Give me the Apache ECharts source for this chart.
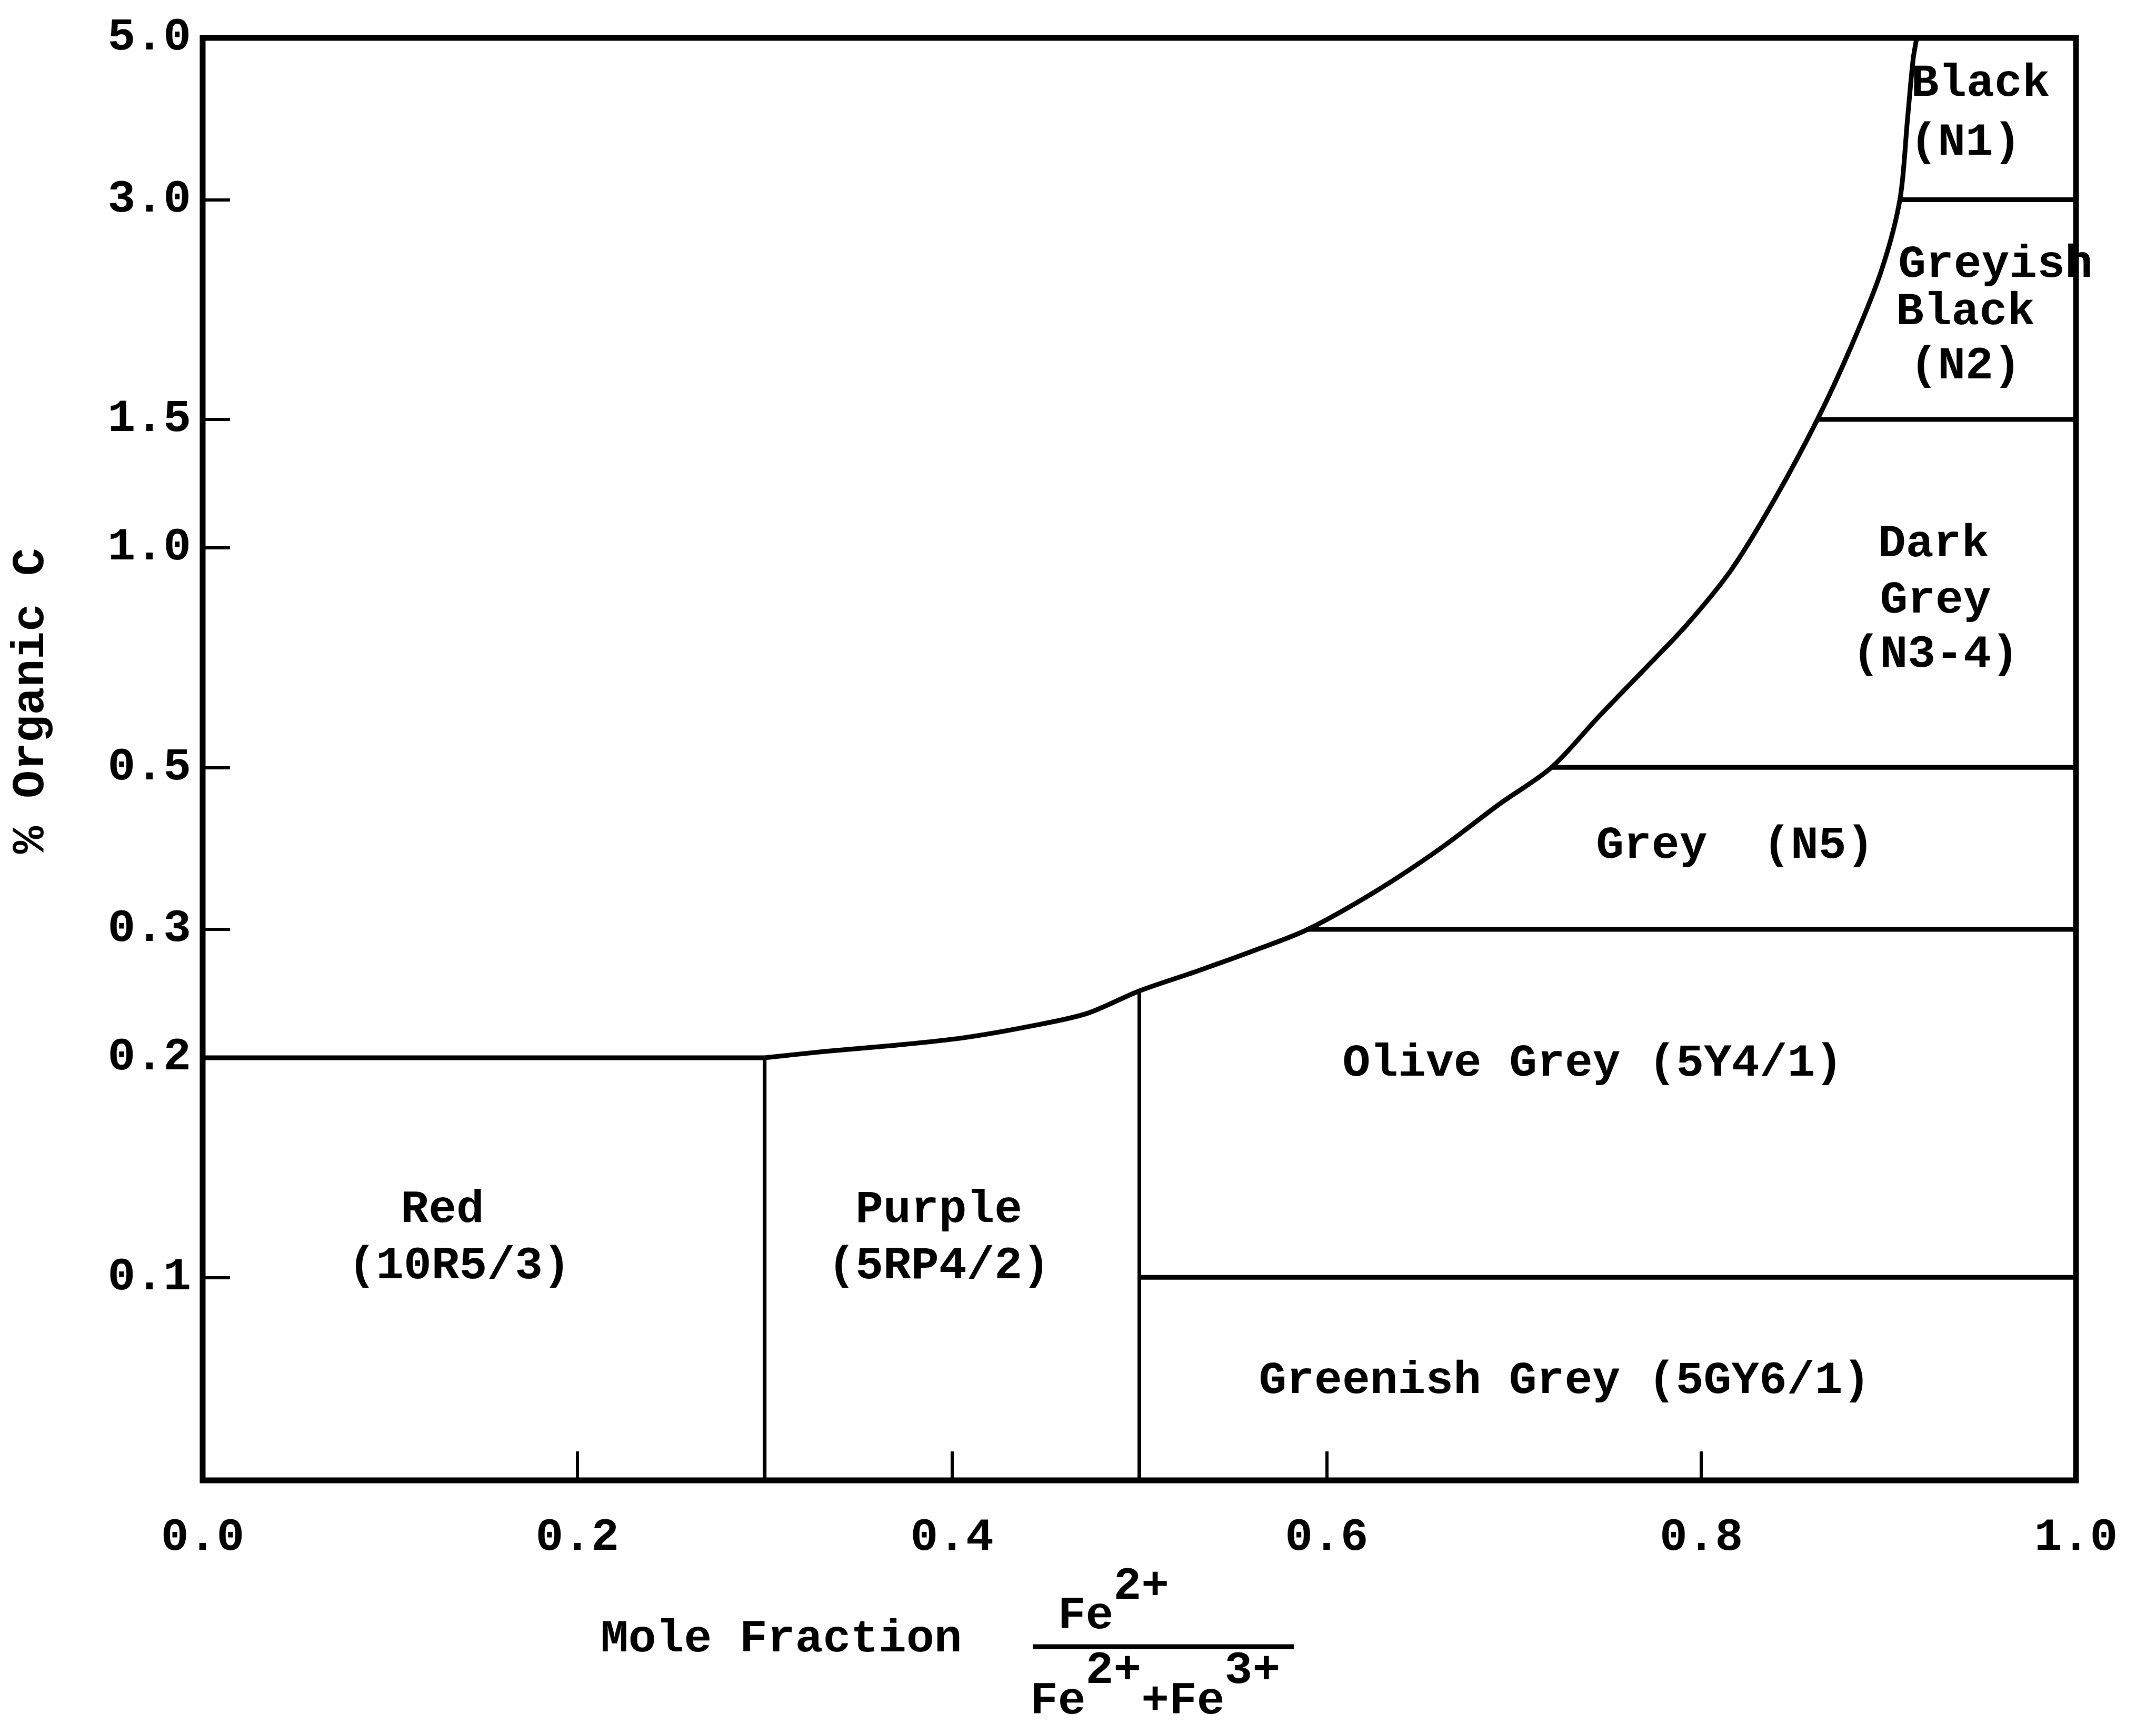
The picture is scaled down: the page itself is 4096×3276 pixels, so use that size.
<!DOCTYPE html>
<html>
<head>
<meta charset="utf-8">
<style>
html,body{margin:0;padding:0;background:#fff;}
#chart{width:4096px;height:3276px;}
</style>
<script src="https://cdn.jsdelivr.net/npm/echarts@6/dist/echarts.min.js"></script>
</head>
<body>
<div id="chart"></div>
<script>
// ---------- data ----------
const X_TICK_LABELS = [0.0, 0.2, 0.4, 0.6, 0.8, 1.0];
const X_TICK_MARKS = [0.2, 0.4, 0.6, 0.8];
const Y_TICK_LABELS = [0.1, 0.2, 0.3, 0.5, 1.0, 1.5, 3.0, 5.0];
const Y_TICK_MARKS = [0.1, 0.2, 0.3, 0.5, 1.0, 1.5, 3.0];
const Y_MIN = 0.0527;
const Y_MAX = 5.0;

// boundary curve (mole fraction, % organic C)
const CURVE_X = [0.300,0.332,0.369,0.406,0.442,0.472,0.500,0.531,0.562,0.590,0.626,0.660,0.692,0.720,0.745,0.769,0.792,0.816,0.839,0.862,0.880,0.896,0.906,0.910,0.913,0.915];
const CURVE_Y = [0.200,0.204,0.208,0.213,0.221,0.230,0.247,0.263,0.281,0.300,0.338,0.386,0.445,0.500,0.586,0.679,0.783,0.933,1.164,1.500,1.888,2.394,3.000,3.853,4.660,5.000];

// straight boundaries between colour fields
const LINE_RED_TOP        = [[0.0, 0.2], [0.3, 0.2]];
const LINE_RED_PURPLE     = [[0.3, 0.2], [0.3, Y_MIN]];
const LINE_PURPLE_OLIVE   = [[0.5, 0.247], [0.5, Y_MIN]];
const LINE_OLIVE_GREENISH = [[0.5, 0.1], [1.0, 0.1]];
const LINE_OLIVE_GREY     = [[0.590, 0.3], [1.0, 0.3]];
const LINE_GREY_DARK      = [[0.720, 0.5], [1.0, 0.5]];
const LINE_DARK_GREYISH   = [[0.862, 1.5], [1.0, 1.5]];
const LINE_GREYISH_BLACK  = [[0.906, 3.0], [1.0, 3.0]];

// field labels (one entry per text line)
const LABEL_TEXT = ['Black','(N1)','Greyish','Black','(N2)','Dark','Grey','(N3-4)','Grey  (N5)','Olive Grey (5Y4/1)','Red','(10R5/3)','Purple','(5RP4/2)','Greenish Grey (5GY6/1)'];
const LABEL_X = [0.949,0.941,0.957,0.941,0.941,0.924,0.925,0.925,0.818,0.742,0.128,0.137,0.393,0.393,0.727];
const LABEL_Y = [4.32,3.59,2.44,2.10,1.77,1.01,0.846,0.713,0.390,0.196,0.1236,0.1034,0.1236,0.1034,0.072];

// ---------- chart ----------
const FONT = '"Liberation Mono", monospace';
const FS = 88;
const FW = 'bold';
const CW = FS * 0.6;            // monospace cell width
const fontCss = FW + ' ' + FS + 'px ' + FONT;

const chart = echarts.init(document.getElementById('chart'), null, {renderer: 'canvas'});

function seg(d, w) {
  return {
    type: 'line', data: d, symbol: 'none', silent: true, z: 3,
    lineStyle: {color: '#000', width: w, cap: 'butt'}
  };
}

const labelData = LABEL_TEXT.map((t, i) => ({name: t, value: [LABEL_X[i], LABEL_Y[i]]}));

const fx0 = 1957; // left of the denominator row
function txt(s, x, y, align) {
  return {type: 'text', x: x, y: y,
    style: {text: s, fill: '#000', font: fontCss, align: align || 'left', verticalAlign: 'middle'}};
}
const graphic = [
  {type: 'text', x: 60, y: 1332, rotation: Math.PI / 2,
   style: {text: '% Organic C', fill: '#000', font: fontCss, align: 'center', verticalAlign: 'middle'}},
  txt('Mole Fraction', 1141, 3116),
  txt('Fe', fx0 + CW, 3072),
  txt('2+', fx0 + 3 * CW, 3016),
  {type: 'line', shape: {x1: 1962, y1: 3129, x2: 2458, y2: 3129}, style: {stroke: '#000', lineWidth: 9}},
  txt('Fe', fx0, 3234),
  txt('2+', fx0 + 2 * CW, 3176),
  txt('+Fe', fx0 + 4 * CW, 3234),
  txt('3+', fx0 + 7 * CW, 3176)
];

const option = {
  animation: false,
  backgroundColor: '#ffffff',
  textStyle: {fontFamily: FONT, color: '#000'},
  grid: {left: 385, top: 72, right: 152, bottom: 463, show: true, borderColor: '#000', borderWidth: 11, containLabel: false},
  xAxis: {
    type: 'value', min: 0, max: 1, interval: 0.2,
    axisLine: {show: false}, splitLine: {show: false},
    axisTick: {show: true, inside: true, length: 55, customValues: X_TICK_MARKS, lineStyle: {color: '#000', width: 6}},
    axisLabel: {show: true, margin: 66, color: '#000', fontFamily: FONT, fontSize: FS, fontWeight: FW,
      customValues: X_TICK_LABELS, formatter: v => Number(v).toFixed(1)}
  },
  yAxis: {
    type: 'log', logBase: 10, min: Y_MIN, max: Y_MAX,
    axisLine: {show: false}, splitLine: {show: false}, minorTick: {show: false},
    axisTick: {show: true, inside: true, length: 52, customValues: Y_TICK_MARKS, lineStyle: {color: '#000', width: 6}},
    axisLabel: {show: true, margin: 22, color: '#000', fontFamily: FONT, fontSize: FS, fontWeight: FW,
      customValues: Y_TICK_LABELS, formatter: v => Number(v).toFixed(1), padding: [0, 0, 26, 0]}
  },
  series: [
    {
      type: 'line', name: 'boundary', silent: true, z: 4,
      data: CURVE_X.map((x, i) => [x, CURVE_Y[i]]),
      symbol: 'none', smooth: 0.3,
      lineStyle: {color: '#000', width: 9, join: 'round'}
    },
    seg(LINE_RED_TOP, 9),
    seg(LINE_RED_PURPLE, 7),
    seg(LINE_PURPLE_OLIVE, 7),
    seg(LINE_OLIVE_GREENISH, 9),
    seg(LINE_OLIVE_GREY, 9),
    seg(LINE_GREY_DARK, 9),
    seg(LINE_DARK_GREYISH, 9),
    seg(LINE_GREYISH_BLACK, 9),
    {
      type: 'scatter', name: 'labels', silent: true, z: 5,
      data: labelData, symbolSize: 1,
      itemStyle: {color: 'rgba(0,0,0,0)'},
      label: {show: true, position: 'inside', formatter: p => p.name, opacity: 1,
        textBorderWidth: 0, color: '#000', fontFamily: FONT, fontSize: FS, fontWeight: FW,
        align: 'center', verticalAlign: 'middle'}
    }
  ],
  graphic: graphic
};

chart.setOption(option);
</script>
</body>
</html>
